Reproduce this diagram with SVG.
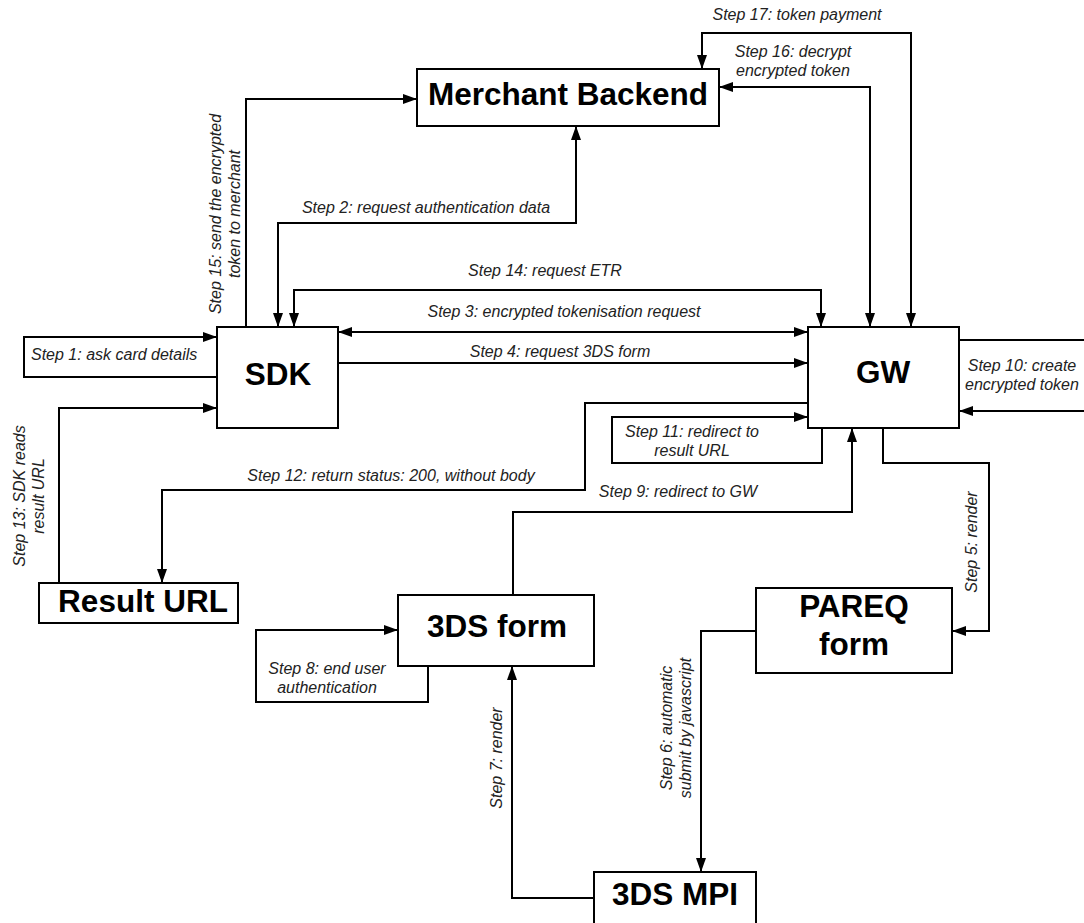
<svg xmlns="http://www.w3.org/2000/svg" width="1084" height="923" viewBox="0 0 1084 923">
<style>
.box{fill:#fff;stroke:#000;stroke-width:2}
.nt{font-family:"Liberation Sans",Arial,sans-serif;font-weight:bold;font-size:31.5px;fill:#000;text-anchor:middle}
.lb{font-family:"Liberation Sans",Arial,sans-serif;font-style:italic;font-size:16px;fill:#222}
.mid{text-anchor:middle}
.c{fill:none;stroke:#000;stroke-width:2}
</style>
<defs>
<marker id="ah" viewBox="0 0 14 10" refX="14" refY="5" markerWidth="14" markerHeight="10" markerUnits="userSpaceOnUse" orient="auto-start-reverse">
<path d="M0,0 L14,5 L0,10 z" fill="#000"/>
</marker>
</defs>
<rect width="1084" height="923" fill="#fff"/>
<g id="connectors">
<path class="c" d="M217,377 L24,377 L24,337 L217,337" marker-end="url(#ah)"/>
<path class="c" d="M278,327 L278,223 L576,223 L576,126" marker-start="url(#ah)" marker-end="url(#ah)"/>
<path class="c" d="M338,332 L808,332" marker-start="url(#ah)" marker-end="url(#ah)"/>
<path class="c" d="M338,363 L808,363" marker-end="url(#ah)"/>
<path class="c" d="M883,428 L883,463 L989,463 L989,631 L952,631" marker-end="url(#ah)"/>
<path class="c" d="M756,631 L701,631 L701,872" marker-end="url(#ah)"/>
<path class="c" d="M594,898 L512,898 L512,666" marker-end="url(#ah)"/>
<path class="c" d="M428,666 L428,702 L256,702 L256,630 L398,630" marker-end="url(#ah)"/>
<path class="c" d="M513,595 L513,512 L852,512 L852,428" marker-end="url(#ah)"/>
<path class="c" d="M959,340 L1090,340 L1090,411 L959,411" marker-end="url(#ah)"/>
<path class="c" d="M822,428 L822,463 L612,463 L612,417 L808,417" marker-end="url(#ah)"/>
<path class="c" d="M808,403 L585,403 L585,490 L162,490 L162,583" marker-end="url(#ah)"/>
<path class="c" d="M59,583 L59,408 L217,408" marker-end="url(#ah)"/>
<path class="c" d="M821,327 L821,290 L294,290 L294,327" marker-start="url(#ah)" marker-end="url(#ah)"/>
<path class="c" d="M246,327 L246,99 L417,99" marker-end="url(#ah)"/>
<path class="c" d="M870,327 L870,87 L719,87" marker-start="url(#ah)" marker-end="url(#ah)"/>
<path class="c" d="M911,327 L911,33 L702,33 L702,69" marker-start="url(#ah)" marker-end="url(#ah)"/>
</g>
<g id="labels">
<text class="lb" x="31" y="360">Step 1: ask card details</text>
<text class="lb mid" x="426" y="213">Step 2: request authentication data</text>
<text class="lb mid" x="564" y="317">Step 3: encrypted tokenisation request</text>
<text class="lb mid" x="560" y="357">Step 4: request 3DS form</text>
<text class="lb mid" x="545" y="276">Step 14: request ETR</text>
<text class="lb mid" x="391" y="481">Step 12: return status: 200, without body</text>
<text class="lb mid" x="678" y="497">Step 9: redirect to GW</text>
<text class="lb mid" x="797" y="20">Step 17: token payment</text>
<text class="lb mid" x="793" y="57">Step 16: decrypt<tspan x="793" y="76">encrypted token</tspan></text>
<text class="lb mid" x="1022" y="371">Step 10: create<tspan x="1022" y="390">encrypted token</tspan></text>
<text class="lb mid" x="692" y="437">Step 11: redirect to<tspan x="692" y="456">result URL</tspan></text>
<text class="lb mid" x="327" y="674">Step 8: end user<tspan x="327" y="693">authentication</tspan></text>
<text class="lb mid" transform="translate(25,496) rotate(-90)">Step 13: SDK reads<tspan x="0" y="19">result URL</tspan></text>
<text class="lb mid" transform="translate(221,214) rotate(-90)">Step 15: send the encrypted<tspan x="0" y="19">token to merchant</tspan></text>
<text class="lb mid" transform="translate(502,758) rotate(-90)">Step 7: render</text>
<text class="lb mid" transform="translate(977,542) rotate(-90)">Step 5: render</text>
<text class="lb mid" transform="translate(672,728) rotate(-90)">Step 6: automatic<tspan x="0" y="19">submit by javascript</tspan></text>
</g>
<g id="merchant"><rect class="box" x="417" y="69" width="302" height="57"/><text class="nt" x="568" y="105">Merchant Backend</text></g>
<g id="sdk"><rect class="box" x="217" y="327" width="121" height="101"/><text class="nt" x="278" y="385">SDK</text></g>
<g id="gw"><rect class="box" x="808" y="327" width="151" height="101"/><text class="nt" x="883" y="383">GW</text></g>
<g id="result"><rect class="box" x="39" y="583" width="199" height="40"/><text class="nt" x="143" y="612">Result URL</text></g>
<g id="form3ds"><rect class="box" x="398" y="595" width="196" height="71"/><text class="nt" x="497" y="637">3DS form</text></g>
<g id="pareq"><rect class="box" x="756" y="588" width="196" height="85"/><text class="nt" x="854" y="617">PAREQ</text><text class="nt" x="854" y="655">form</text></g>
<g id="mpi"><rect class="box" x="594" y="872" width="162" height="70"/><text class="nt" x="675" y="905">3DS MPI</text></g>
</svg>
